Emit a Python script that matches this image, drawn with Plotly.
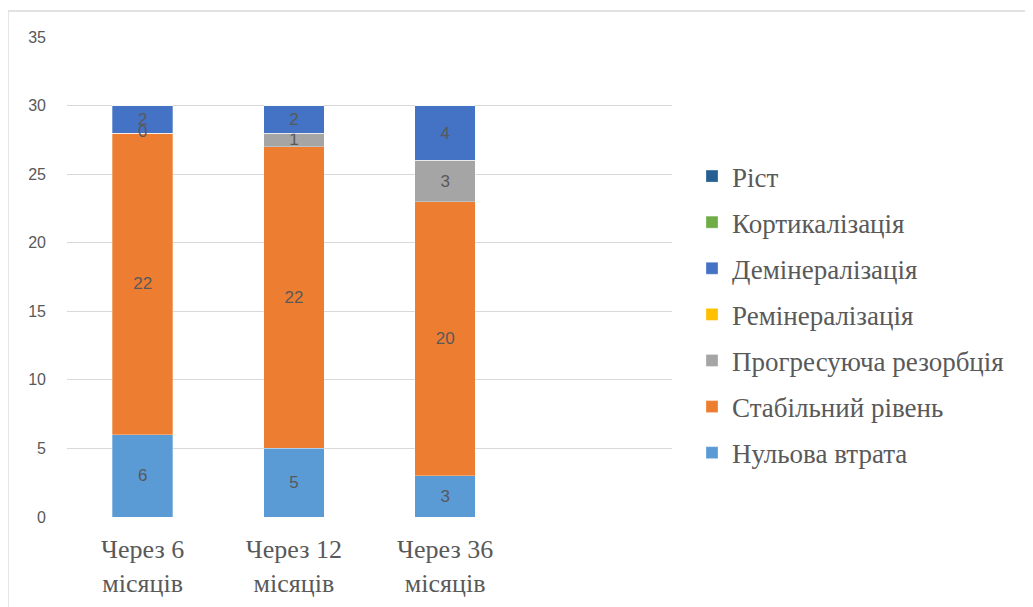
import plotly.graph_objects as go

categories = ["Через 6<br>місяців", "Через 12<br>місяців", "Через 36<br>місяців"]
series_names = ["Нульова втрата", "Стабільний рівень", "Прогресуюча резорбція",
                "Ремінералізація", "Демінералізація", "Кортикалізація", "Ріст"]
nulova = [6, 5, 3]
stabilnyi = [22, 22, 20]
progresuyucha = [0, 1, 3]
remineralizatsiya = [None, None, None]
demineralizatsiya = [2, 2, 4]
kortykalizatsiya = [None, None, None]
rist = [None, None, None]
colors = ["#5B9BD5", "#ED7D31", "#A5A5A5", "#FFC000", "#4472C4", "#70AD47", "#255E91"]
y_ticks = [0, 5, 10, 15, 20, 25, 30, 35]

values = [nulova, stabilnyi, progresuyucha, remineralizatsiya,
          demineralizatsiya, kortykalizatsiya, rist]

OFF = 8  # page body offset
W, H = 1033, 607
L, T = 67 - OFF, 37 - OFF
R = OFF + W - 672
B = OFF + H - 517
pw, ph = W - L - R, H - T - B

def px_x(x):
    return (x - OFF - L) / pw

def px_y(y):
    return 1 - (y - OFF - T) / ph

fig = go.Figure()
base = [0, 0, 0]
zero_x, zero_y = [], []
n = len(series_names)
for k, (name, vals, col) in enumerate(zip(series_names, values, colors)):
    texts = ["" if v is None else str(v) for v in vals]
    yv = [0 if v is None else v for v in vals]
    for i, v in enumerate(vals):
        if v == 0:
            zero_x.append(categories[i])
            zero_y.append(base[i])
    base = [b + y for b, y in zip(base, yv)]
    fig.add_trace(go.Bar(
        x=categories, y=yv, name=name,
        marker=dict(color=col, line=dict(width=0.6, color="rgba(255,255,255,0.5)")),
        text=texts, textposition="inside", insidetextanchor="middle", textangle=0,
        textfont=dict(family="Liberation Sans, Arial", size=17, color="#595959"),
        constraintext="none", cliponaxis=False,
        legendgroup=name, legendrank=n - k, hoverinfo="name+y",
    ))

fig.add_trace(go.Scatter(
    x=zero_x, y=zero_y, mode="text", text=["0"] * len(zero_x),
    textposition="middle center", showlegend=False, hoverinfo="skip",
    textfont=dict(family="Liberation Sans, Arial", size=17, color="#595959"),
))

fig.update_layout(
    width=W, height=H,
    margin=dict(l=L, r=R, t=T, b=B, pad=0),
    barmode="stack", bargap=0.6,
    paper_bgcolor="white", plot_bgcolor="white",
    uniformtext=dict(minsize=8, mode="show"),
    xaxis=dict(range=[-0.5, 3.5], showgrid=False, showline=False, ticks="",
               ticklabelstandoff=14,
               tickfont=dict(family="Liberation Serif, Times New Roman", size=26, color="#595959")),
    yaxis=dict(range=[0, 35], tickvals=y_ticks, showgrid=True, gridcolor="#D9D9D9", gridwidth=1.3,
               zeroline=False, showline=False, ticks="", ticklabelstandoff=20,
               tickfont=dict(family="Liberation Sans, Arial", size=16, color="#595959")),
    legend=dict(traceorder="grouped", x=px_x(692), xanchor="left",
                y=px_y(152), yanchor="top", tracegroupgap=8,
                font=dict(family="Liberation Serif, Times New Roman", size=27, color="#595959"),
                itemwidth=30, bgcolor="rgba(0,0,0,0)"),
    shapes=[dict(type="rect", xref="paper", yref="paper",
                 x0=px_x(8), x1=px_x(1045),
                 y0=px_y(625), y1=px_y(11),
                 line=dict(color="#D9D9D9", width=1.3), fillcolor="rgba(0,0,0,0)", layer="below")],
)

fig.write_html("out.html")
